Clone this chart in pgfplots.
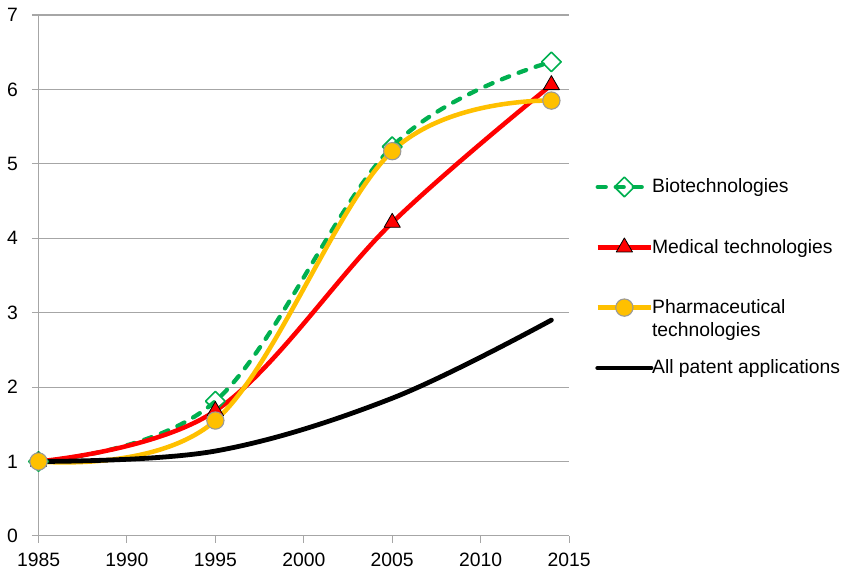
\documentclass[border=0pt]{standalone}
\usepackage{fontspec}
\setmainfont{Liberation Sans}
\usepackage{pgfplots}
\pgfplotsset{compat=1.18}
\definecolor{bgreen}{HTML}{00B050}
\definecolor{mred}{HTML}{FF0000}
\definecolor{pgold}{HTML}{FFC000}
\definecolor{gridgray}{HTML}{A6A6A6}
\begin{document}
\begin{tikzpicture}
\begin{axis}[
  scale only axis, width=398pt, height=390.75pt,
  xmin=1985, xmax=2015, ymin=0, ymax=7,
  xtick={1985,1990,...,2015}, ytick={0,1,...,7},
  /pgf/number format/1000 sep={},
  /pgf/number format/assume math mode=true,
  axis lines=left, axis line style={-, gridgray, line width=0.8pt},
  tick style={gridgray, line width=0.8pt}, tick align=outside, major tick length=5pt,
  ymajorgrids, grid style={gridgray, line width=0.8pt},
  tick label style={font=\fontsize{14.5}{17}\selectfont},
  xticklabel style={yshift=-4.5pt},
  yticklabel style={xshift=-7pt},
  clip=false,
  legend cell align=left,
  legend image code/.code={\draw[mark repeat=2,mark phase=2,#1] plot coordinates {(0pt,0pt)(20pt,0pt)(40pt,0pt)};},
  legend style={at={(1,0.5)}, anchor=west, xshift=19.5pt, yshift=-1.5pt, draw=none, fill=none, inner sep=0pt,
    font=\fontsize{14.5}{17.25}\selectfont, row sep=29.25pt,
    cells={anchor=west, text height=10.5pt, text depth=3pt, inner xsep=1.5pt}},
  every axis plot/.append style={smooth, tension=0.6, line join=round},
]
\addplot[bgreen, line width=3.2pt, line cap=round, dash pattern=on 6pt off 7.5pt,
  mark=square, mark size=5.2pt, mark options={solid, rotate=45, fill=white, draw=bgreen, line width=1.2pt}]
  coordinates {(1985,1) (1995,1.81) (2005,5.23) (2014,6.37)};
\addlegendentry{\hspace*{-3pt}Biotechnologies}
\addplot[mred, line width=3.4pt,
  mark=triangle*, mark size=7pt, mark options={fill=mred, draw=black, line width=0.6pt}]
  coordinates {(1985,1) (1995,1.68) (2005,4.21) (2014,6.06)};
\addlegendentry{\hspace*{-3pt}Medical technologies}
\addplot[pgold, line width=3.4pt,
  mark=*, mark size=6.5pt, mark options={fill=pgold, draw=gray!80, line width=0.8pt}]
  coordinates {(1985,1) (1995,1.55) (2005,5.17) (2014,5.85)};
\addlegendentry{\hspace*{-3pt}\begin{tabular}[t]{@{}l@{}}Pharmaceutical\\technologies\end{tabular}}
\addplot[black, line width=3.6pt, line cap=round]
  coordinates {(1985,1) (1995,1.14) (2005,1.85) (2014,2.9)};
\addlegendentry{\hspace*{-3pt}All patent applications}
\end{axis}
\pgfresetboundingbox
\path[use as bounding box] ([xshift=-28.9pt,yshift=-27pt]current axis.south west) rectangle ([xshift=205.5pt,yshift=11.25pt]current axis.north east);
\end{tikzpicture}
\end{document}
